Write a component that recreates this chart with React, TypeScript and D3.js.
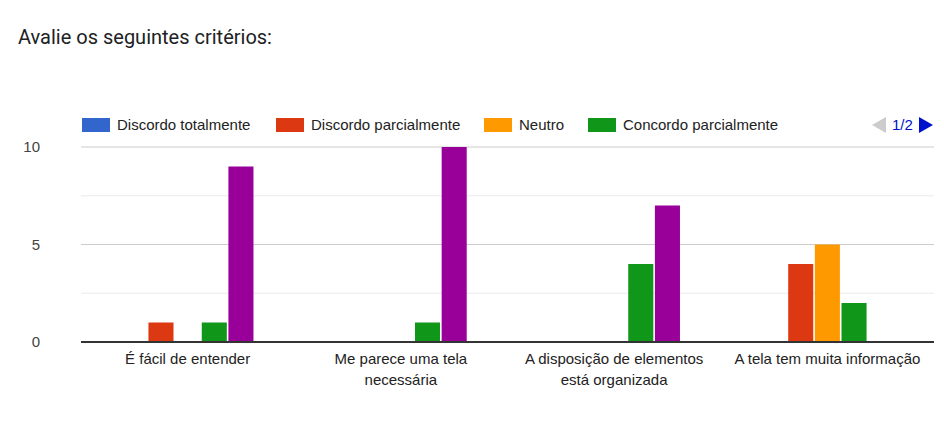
import React from "react";
import * as d3 from "d3";

const categories = [
  ["É fácil de entender"],
  ["Me parece uma tela", "necessária"],
  ["A disposição de elementos", "está organizada"],
  ["A tela tem muita informação"],
];
const seriesNames = [
  "Discordo totalmente",
  "Discordo parcialmente",
  "Neutro",
  "Concordo parcialmente",
  "Concordo totalmente",
];
const colors = ["#3366cc", "#dc3912", "#ff9900", "#109618", "#990099"];
// values per category, one per series
const values = [
  [0, 1, 0, 1, 9],
  [0, 0, 0, 1, 10],
  [0, 0, 0, 4, 7],
  [0, 4, 5, 2, 0],
];
const yTicks = [0, 5, 10];
const minorTicks = [2.5, 7.5];
// legend shows the first page only
const legendX = [82, 276, 484, 588];

const W = 944;
const H = 426;
const left = 81;
const right = 934;
const top = 147;
const bottom = 342;

export default function App() {
  const x = d3
    .scaleBand<number>()
    .domain(categories.map((_, i) => i))
    .range([left, right]);
  const inner = d3
    .scaleBand<number>()
    .domain(seriesNames.map((_, i) => i))
    .range([0, x.bandwidth()])
    .paddingOuter(1.53)
    .paddingInner(0.06);
  const y = d3.scaleLinear().domain([0, 10]).range([bottom, top]);

  return (
    <svg
      width={W}
      height={H}
      style={{ position: "absolute", left: 0, top: 0, background: "#fff" }}
      fontFamily="'Liberation Sans', Arial, sans-serif"
    >
      <text x={18} y={44} fontSize={20} fill="#202124" fontFamily="Roboto, sans-serif">
        Avalie os seguintes critérios:
      </text>

      {/* legend */}
      {legendX.map((lx, i) => (
        <g key={i}>
          <rect x={lx} y={118} width={28} height={14} fill={colors[i]} />
          <text x={lx + 35} y={130} fontSize={15} fill="#222">
            {seriesNames[i]}
          </text>
        </g>
      ))}
      <path d="M872,125 L886,117 L886,133 Z" fill="#ccc" />
      <text x={892} y={130} fontSize={15} fill="#0011cc">
        1/2
      </text>
      <path d="M919,117 L933,125 L919,133 Z" fill="#0011cc" />

      {/* grid */}
      {minorTicks.map((t) => (
        <line key={t} x1={left} x2={right} y1={y(t)} y2={y(t)} stroke="#ebebeb" />
      ))}
      {yTicks.map((t) => (
        <g key={t}>
          {t !== 0 && (
            <line x1={left} x2={right} y1={y(t)} y2={y(t)} stroke="#cccccc" />
          )}
          <text
            x={40}
            y={y(t) + 5}
            fontSize={15}
            fill="#444"
            textAnchor="end"
          >
            {t}
          </text>
        </g>
      ))}

      {/* bars */}
      {values.map((row, ci) =>
        row.map((v, si) => (
          <rect
            key={`${ci}-${si}`}
            x={(x(ci) ?? 0) + (inner(si) ?? 0)}
            y={y(v)}
            width={inner.bandwidth()}
            height={Math.max(0, bottom - y(v))}
            fill={colors[si]}
          />
        ))
      )}

      <line x1={left} x2={right} y1={bottom} y2={bottom} stroke="#333" strokeWidth={2} />

      {/* category labels */}
      {categories.map((lines, ci) => (
        <text
          key={ci}
          x={(x(ci) ?? 0) + x.bandwidth() / 2}
          y={364}
          fontSize={15}
          fill="#222"
          textAnchor="middle"
        >
          {lines.map((l, li) => (
            <tspan key={li} x={(x(ci) ?? 0) + x.bandwidth() / 2} dy={li === 0 ? 0 : 21}>
              {l}
            </tspan>
          ))}
        </text>
      ))}
    </svg>
  );
}
